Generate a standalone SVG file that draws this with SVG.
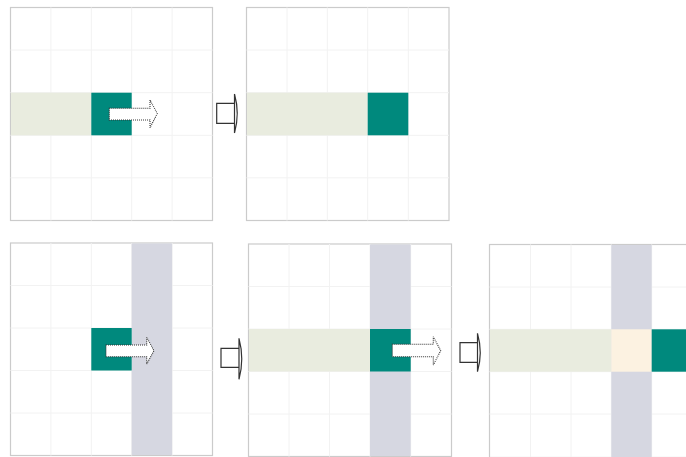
<svg xmlns="http://www.w3.org/2000/svg" width="686" height="457" viewBox="0 0 686 457">
<style>
.frame{fill:#fff;stroke:#cbcbcb;stroke-width:1.2}
.grid{stroke:#f2f2f2;stroke-width:1;fill:none}
.path{fill:#e9ecdf}
.cur{fill:#00897d}
.col{fill:#d6d7e1}
.hit{fill:#fcf2e1}
.move{fill:#fff;stroke:#333;stroke-width:1.1;stroke-dasharray:1 1}
.step{fill:#fff;stroke:#333;stroke-width:1.2;stroke-linejoin:miter}
</style>
<rect width="686" height="457" fill="#fff"/>

<g id="panel1">
<rect class="frame" x="10.5" y="7.5" width="202" height="213"/>
<path class="grid" d="M50.9,7.5V220.5M91.3,7.5V220.5M131.7,7.5V220.5M172.1,7.5V220.5M10.5,50H212.5M10.5,92.7H212.5M10.5,135.3H212.5M10.5,177.8H212.5"/>
<rect class="path" x="11" y="92.7" width="80.3" height="42.6"/>
<rect class="cur" x="91.3" y="92.7" width="40.4" height="42.6"/>
<path class="move" d="M109.3,108.3H150V100L157.3,113.5L150,127.7V120H109.3Z"/>
</g>

<g id="panel2">
<rect class="frame" x="246.5" y="7.5" width="202.5" height="213"/>
<path class="grid" d="M287,7.5V220.5M327.3,7.5V220.5M367.7,7.5V220.5M408.3,7.5V220.5M246.5,50H449M246.5,92.7H449M246.5,135.3H449M246.5,177.8H449"/>
<rect class="path" x="247" y="92.7" width="120.7" height="42.6"/>
<rect class="cur" x="367.7" y="92.7" width="40.6" height="42.6"/>
</g>

<g id="panel3">
<rect class="frame" x="10.5" y="243" width="202" height="212.5"/>
<path class="grid" d="M50.9,243V455.5M91.3,243V455.5M131.7,243V455.5M172.1,243V455.5M10.5,285.5H212.5M10.5,328H212.5M10.5,370.5H212.5M10.5,413H212.5"/>
<rect class="col" x="131.7" y="243.5" width="40.4" height="211.5"/>
<rect class="cur" x="91.3" y="328" width="40.4" height="42.5"/>
<path class="move" d="M106,345H146.7V337.3L154,350.7L146.7,364V356.7H106Z"/>
</g>

<g id="panel4">
<rect class="frame" x="248.5" y="244" width="203" height="212.5"/>
<path class="grid" d="M289,244V456.5M329.5,244V456.5M370,244V456.5M410.7,244V456.5M248.5,286.5H451.5M248.5,329H451.5M248.5,371.5H451.5M248.5,414H451.5"/>
<rect class="col" x="370" y="244.5" width="40.7" height="211.5"/>
<rect class="path" x="249" y="329" width="121" height="42.5"/>
<rect class="cur" x="370" y="329" width="40.7" height="42.5"/>
<path class="move" d="M392.3,344.3H433.3V336.7L440.7,350.7L433.3,365V356.7H392.3Z"/>
</g>

<g id="panel5">
<rect class="frame" x="489.5" y="244.5" width="203" height="213"/>
<path class="grid" d="M530.5,244.5V457M571,244.5V457M611.3,244.5V457M651.7,244.5V457M489.5,287H692M489.5,329.3H692M489.5,371.7H692M489.5,414H692"/>
<rect class="col" x="611.3" y="245" width="40.4" height="212"/>
<rect class="path" x="490" y="329.3" width="121.3" height="42.4"/>
<rect class="hit" x="611.3" y="329.3" width="40.4" height="42.4"/>
<rect class="cur" x="651.7" y="329.3" width="40.3" height="42.4"/>
</g>

<g id="connectors">
<path class="step" d="M216.7,103.3H234.5V123.3H216.7Z M234.5,94V133 M234.5,94Q240,113.5 234.5,133"/>
<path class="step" d="M221,348.3H239V367.3H221Z M239,338.3V379.3 M239,338.3Q244.5,358.8 239,379.3"/>
<path class="step" d="M460,342.7H477.5V362.3H460Z M477.5,333.3V371.7 M477.5,333.3Q483,352.5 477.5,371.7"/>
</g>
</svg>
